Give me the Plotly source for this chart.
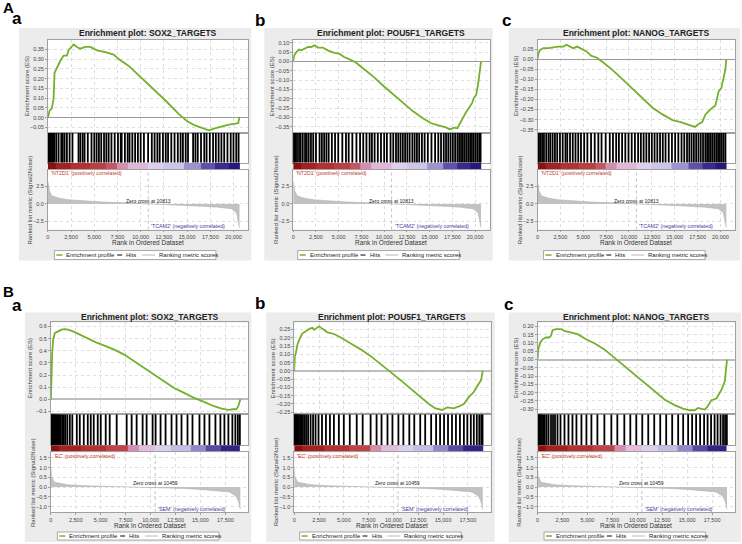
import plotly.graph_objects as go

W, H = 742, 544

# ---------------- values ----------------
# ranked list metric (Signal2Noise), one per dataset
metric_rank_A = [0, 72, 180, 430, 1150, 2220, 4010, 5810, 7600, 9390, 10813, 12970, 14770, 16560, 18350, 19780, 20320, 20500, 20650]
metric_val_A = [3.2, 2.6, 1.8, 1.17, 0.84, 0.6, 0.42, 0.28, 0.19, 0.1, 0.0, -0.14, -0.23, -0.33, -0.47, -0.7, -1.26, -2.2, -3.4]
metric_rank_B = [0, 60, 350, 1700, 3400, 5000, 6700, 8400, 10459, 11700, 13300, 15000, 16600, 17900, 18550, 18800, 19000]
metric_val_B = [1.0, 0.55, 0.25, 0.12, 0.07, 0.05, 0.03, 0.015, 0.0, -0.03, -0.07, -0.12, -0.19, -0.25, -0.46, -0.71, -1.14]

# colour strip under the hits (1 = red end, 0 = blue end)
strip_edges_A = [0, 900, 2500, 4500, 6300, 7400, 8600, 10800, 12500, 14700, 16500, 18000, 19500, 20650]
strip_level_A = [1.0, 0.95, 0.9, 0.85, 0.78, 0.66, 0.58, 0.5, 0.44, 0.34, 0.22, 0.12, 0.03]
strip_edges_B = [0, 800, 3000, 5500, 7700, 8800, 10459, 12000, 14000, 15500, 17000, 19000]
strip_level_B = [1.0, 0.95, 0.9, 0.83, 0.66, 0.57, 0.49, 0.42, 0.32, 0.2, 0.08]

# enrichment score curves
es_rank_A_sox2 = [0, 180, 432, 612, 720, 972, 1332, 1692, 2052, 2232, 2592, 2772, 3132, 3492, 4032, 4572, 5292, 6192, 7092, 7632, 8712, 9792, 11232, 12672, 14112, 15012, 15912, 16632, 17352, 18072, 18792, 19512, 20232, 20520, 20650]
es_A_sox2 = [0.0, 0.035, 0.048, 0.097, 0.23, 0.256, 0.29, 0.318, 0.318, 0.345, 0.362, 0.375, 0.362, 0.353, 0.362, 0.362, 0.345, 0.336, 0.323, 0.30, 0.265, 0.217, 0.154, 0.088, 0.018, -0.018, -0.041, -0.053, -0.065, -0.053, -0.044, -0.035, -0.030, -0.027, 0.004]
es_rank_A_pou5f1 = [0, 108, 361, 614, 903, 1264, 1625, 1986, 2347, 2708, 3249, 3791, 4513, 5054, 5596, 6318, 6859, 7762, 8845, 9928, 11011, 12094, 13177, 14260, 15162, 16065, 16787, 17220, 17689, 18050, 18411, 18953, 19314, 19675, 19855, 20108, 20325, 20469, 20650]
es_A_pou5f1 = [0, 0.033, 0.051, 0.064, 0.06, 0.069, 0.078, 0.078, 0.087, 0.075, 0.075, 0.06, 0.047, 0.042, 0.024, 0.009, -0.004, -0.04, -0.082, -0.131, -0.176, -0.222, -0.267, -0.304, -0.331, -0.344, -0.353, -0.364, -0.355, -0.358, -0.322, -0.276, -0.249, -0.222, -0.195, -0.18, -0.122, -0.058, 0.0]
es_rank_A_nanog = [0, 108, 289, 651, 1193, 1736, 2278, 2820, 3182, 3544, 3905, 4339, 4810, 5352, 5894, 6436, 7160, 8245, 9330, 10414, 11499, 12584, 13669, 14754, 15658, 16381, 16924, 17213, 17575, 18008, 18370, 18912, 19455, 19817, 20107, 20360, 20541, 20650]
es_A_nanog = [0, 0.03, 0.046, 0.054, 0.054, 0.059, 0.062, 0.062, 0.071, 0.062, 0.054, 0.062, 0.049, 0.038, 0.016, 0.008, -0.016, -0.056, -0.102, -0.148, -0.197, -0.241, -0.274, -0.302, -0.312, -0.323, -0.328, -0.336, -0.323, -0.312, -0.274, -0.249, -0.23, -0.159, -0.143, -0.093, -0.052, 0.0]
es_rank_B_sox2 = [0, 66, 132, 232, 397, 728, 1059, 1390, 1721, 2218, 2880, 3707, 4535, 5362, 6355, 7348, 8341, 9334, 10327, 11320, 12313, 13306, 14299, 15292, 16285, 17113, 17775, 18271, 18602, 18801, 19000]
es_B_sox2 = [0, 0.245, 0.382, 0.491, 0.545, 0.559, 0.573, 0.578, 0.573, 0.559, 0.532, 0.505, 0.469, 0.442, 0.409, 0.368, 0.314, 0.259, 0.205, 0.15, 0.095, 0.055, 0.014, -0.019, -0.055, -0.076, -0.087, -0.082, -0.082, -0.055, 0.0]
es_rank_B_pou5f1 = [0, 67, 168, 335, 603, 838, 1173, 1508, 1843, 2011, 2279, 2513, 2848, 3351, 4021, 4691, 5697, 6702, 7707, 8713, 9718, 10723, 11729, 12734, 13572, 14243, 14913, 15416, 16086, 16588, 17091, 17594, 18096, 18498, 18833, 19000]
es_B_pou5f1 = [0, 0.089, 0.11, 0.161, 0.202, 0.227, 0.24, 0.254, 0.26, 0.248, 0.26, 0.269, 0.254, 0.233, 0.223, 0.202, 0.165, 0.13, 0.089, 0.041, -0.004, -0.056, -0.107, -0.159, -0.2, -0.227, -0.236, -0.221, -0.227, -0.215, -0.2, -0.159, -0.128, -0.087, -0.056, 0.0]
es_rank_B_nanog = [0, 67, 268, 503, 838, 1173, 1340, 1508, 1843, 2346, 2681, 3184, 4021, 4859, 5697, 6702, 7707, 8713, 9718, 10723, 11729, 12734, 13740, 14578, 15248, 15751, 16086, 16756, 17025, 17427, 17930, 18432, 18767, 19000]
es_B_nanog = [0, 0.061, 0.102, 0.122, 0.133, 0.133, 0.143, 0.177, 0.184, 0.184, 0.173, 0.167, 0.153, 0.122, 0.098, 0.061, 0.01, -0.041, -0.092, -0.143, -0.194, -0.241, -0.275, -0.296, -0.306, -0.306, -0.292, -0.302, -0.286, -0.245, -0.235, -0.184, -0.133, 0.0]

# hit positions (rank of gene-set members)
hits_A_sox2 = [30, 120, 210, 330, 450, 560, 690, 900, 1150, 1440, 1600, 1800, 2050, 2340, 2650, 3300, 3500, 3750, 3950, 4300, 4700, 5000, 5250, 5500, 5750, 6050, 6300, 6550, 6850, 7200, 7550, 7850, 7950, 8300, 8600, 8800, 9100, 9400, 9700, 10000, 10350, 10800, 11200, 11500, 11800, 12050, 12400, 12700, 12950, 13300, 13650, 14000, 14300, 14550, 14850, 15100, 15650, 15900, 16150, 16500, 16850, 17100, 17450, 17800, 18100, 18400, 18700, 19000, 19350, 19700, 20000, 20300, 20550]
hits_A_pou5f1 = [20, 110, 260, 420, 640, 820, 1050, 1300, 1480, 1700, 1950, 2200, 2500, 2900, 3150, 3400, 3650, 3900, 4250, 4600, 4950, 5400, 5800, 6100, 6500, 6950, 7350, 7700, 8050, 8400, 8650, 8950, 9300, 9650, 10000, 10300, 10700, 11000, 11300, 11550, 11800, 12050, 12300, 12550, 12800, 13100, 13350, 13600, 13850, 14150, 14450, 14800, 15200, 15600, 15950, 16250, 16550, 16800, 17050, 17300, 17550, 17800, 18050, 18250, 18450, 18650, 18850, 19050, 19250, 19450, 19650, 19850, 20050, 20250, 20450, 20600]
hits_A_nanog = [40, 150, 300, 500, 700, 950, 1200, 1400, 1650, 1900, 2150, 2450, 2750, 3050, 3250, 3550, 3850, 4150, 4450, 4750, 5100, 5450, 5850, 6250, 6650, 7000, 7450, 7900, 8250, 8600, 8900, 9250, 9600, 9950, 10300, 10650, 11000, 11300, 11600, 11900, 12200, 12500, 12800, 13100, 13400, 13700, 14000, 14350, 14700, 15050, 15400, 15750, 16050, 16350, 16600, 16850, 17100, 17350, 17600, 17850, 18100, 18350, 18550, 18750, 18950, 19150, 19350, 19550, 19750, 19950, 20150, 20350, 20550]
hits_B_sox2 = [0, 40, 90, 150, 220, 300, 380, 470, 560, 650, 760, 880, 1000, 1150, 1300, 1450, 1650, 1900, 2150, 2600, 2900, 3300, 3700, 4000, 4300, 4700, 5000, 5500, 5900, 6600, 7600, 8100, 8600, 9200, 9600, 10200, 10500, 11000, 11500, 12100, 12600, 13100, 13700, 14200, 14900, 15400, 15900, 16500, 17000, 17400, 17800, 18200, 18500, 18750, 18950]
hits_B_pou5f1 = [0, 50, 120, 200, 290, 380, 480, 600, 730, 870, 1020, 1200, 1400, 1650, 1900, 2150, 2450, 2800, 3200, 3600, 4000, 4500, 5000, 5600, 6300, 6900, 7700, 8300, 8800, 9400, 9900, 10500, 11000, 11600, 12100, 12700, 13200, 13800, 14300, 14700, 15100, 15500, 15900, 16300, 16700, 17100, 17450, 17800, 18100, 18400, 18650, 18850, 18980]
hits_B_nanog = [0, 60, 140, 230, 330, 450, 580, 720, 900, 1100, 1350, 1550, 1750, 2000, 2300, 2700, 3100, 3500, 3900, 4400, 4900, 5400, 6000, 6700, 7400, 8000, 8700, 9300, 9900, 10500, 11100, 11700, 12300, 12900, 13500, 14100, 14600, 15100, 15500, 15900, 16300, 16700, 17050, 17400, 17750, 18050, 18350, 18600, 18800, 18980]

# ---------------- layout (pixel geometry) ----------------
rows = {
    "A": dict(frame=(28, 261), title_y=33, es=(40, 133), hits=(133, 163), strip=(163, 170), rank=(170, 230),
              xlabel_y=243, legend=(251, 260), xmax=21600, rank_range=[-3.67, 4.9], rank_ticks=[-2.5, 0, 2.5],
              metric_x=metric_rank_A, metric_y=metric_val_A, strip_x=strip_edges_A, strip_z=strip_level_A,
              pos="'NT2D1' (positively correlated)", neg="'TCAM2' (negatively correlated)",
              zero=10813, zlabel="Zero cross at 10813", zcol="#9a9a9a", zw=1),
    "B": dict(frame=(313, 543), title_y=318, es=(323, 415), hits=(415, 446), strip=(446, 453), rank=(453, 513),
              xlabel_y=526, legend=(533, 541), xmax=19800, rank_range=[-1.28, 1.79], rank_ticks=[-1, -0.5, 0, 0.5, 1, 1.5],
              metric_x=metric_rank_B, metric_y=metric_val_B, strip_x=strip_edges_B, strip_z=strip_level_B,
              pos="'EC' (positively correlated)", neg="'SEM' (negatively correlated)",
              zero=10459, zlabel="Zero cross at 10459", zcol="#bdbdbd", zw=2),
}

panels = [
    dict(row="A", letter="a", lx=15, ly=19, fx=(17, 250), px=(46, 247), title="Enrichment plot: SOX2_TARGETS",
         ex=es_rank_A_sox2, ey=es_A_sox2, hits=hits_A_sox2, yr=[-0.077, 0.398], dt=0.05, fmt=".2f"),
    dict(row="A", letter="b", lx=259, ly=21, fx=(263, 492), px=(292, 489), title="Enrichment plot: POU5F1_TARGETS",
         ex=es_rank_A_pou5f1, ey=es_A_pou5f1, hits=hits_A_pou5f1, yr=[-0.382, 0.116], dt=0.05, fmt=".2f"),
    dict(row="A", letter="c", lx=506, ly=21, fx=(508, 740), px=(537, 735), title="Enrichment plot: NANOG_TARGETS",
         ex=es_rank_A_nanog, ey=es_A_nanog, hits=hits_A_nanog, yr=[-0.365, 0.095], dt=0.05, fmt=".2f"),
    dict(row="B", letter="a", lx=15, ly=306, fx=(23, 250), px=(49, 247), title="Enrichment plot: SOX2_TARGETS",
         ex=es_rank_B_sox2, ey=es_B_sox2, hits=hits_B_sox2, yr=[-0.123, 0.633], dt=0.1, fmt=".1f"),
    dict(row="B", letter="b", lx=259, ly=304, fx=(265, 494), px=(293, 490), title="Enrichment plot: POU5F1_TARGETS",
         ex=es_rank_B_pou5f1, ey=es_B_pou5f1, hits=hits_B_pou5f1, yr=[-0.262, 0.293], dt=0.05, fmt=".2f"),
    dict(row="B", letter="c", lx=508, ly=305, fx=(508, 741), px=(537, 735), title="Enrichment plot: NANOG_TARGETS",
         ex=es_rank_B_nanog, ey=es_B_nanog, hits=hits_B_nanog, yr=[-0.33, 0.224], dt=0.05, fmt=".2f"),
]

FONT = "Liberation Sans, Arial, sans-serif"
GRID = "#dedede"
LINE = "#a0a0a0"
strip_scale = [[0.0, "#1f1273"], [0.12, "#3a2a90"], [0.25, "#6a5cb5"], [0.38, "#b4abdc"], [0.47, "#d9d4ef"],
               [0.55, "#e6c6e6"], [0.63, "#dc9cc4"], [0.72, "#cc6f86"], [0.82, "#c0464c"], [0.92, "#b02a2e"],
               [1.0, "#8c1010"]]


def fx(p):
    return p / W


def fy(p):
    return 1 - p / H


def txt(x, y, text, size=6, color="#333", **kw):
    d = dict(x=fx(x), y=fy(y), xref="paper", yref="paper", text=text, showarrow=False,
             font=dict(family=FONT, size=size, color=color), xanchor="center", yanchor="middle")
    d.update(kw)
    return d


fig = go.Figure()
layout = {}
shapes = []
annotations = [txt(7, 8, "<b>A</b>", 15, "#000"), txt(7, 292, "<b>B</b>", 15, "#000")]
n = 0

for p in panels:
    r = rows[p["row"]]
    x0, x1 = p["px"]
    ids = {}
    for key in ["es", "hits", "strip", "rank"]:
        n += 1
        ids[key] = n
    ax = lambda k: ("" if ids[k] == 1 else str(ids[k]))
    dom_x = [fx(x0), fx(x1)]
    base_x = dict(domain=dom_x, range=[0, r["xmax"]], showline=True, mirror=True, linecolor=LINE,
                  linewidth=0.8, zeroline=False, ticks="", showticklabels=False, showgrid=False)

    # background frame and white plotting area
    shapes.append(dict(type="rect", xref="paper", yref="paper", x0=fx(p["fx"][0]), x1=fx(p["fx"][1]),
                       y0=fy(r["frame"][1]), y1=fy(r["frame"][0]), fillcolor="#ececec", line=dict(width=0),
                       layer="below"))
    shapes.append(dict(type="rect", xref="paper", yref="paper", x0=dom_x[0], x1=dom_x[1],
                       y0=fy(r["rank"][1]), y1=fy(r["es"][0]), fillcolor="white", line=dict(width=0),
                       layer="below"))

    # enrichment score
    k = "es"
    layout["xaxis" + ax(k)] = dict(base_x, anchor="y" + ax(k), showgrid=True, gridcolor=GRID, griddash="dot",
                                   gridwidth=0.7, tick0=0, dtick=2500)
    layout["yaxis" + ax(k)] = dict(domain=[fy(r["es"][1]), fy(r["es"][0])], range=p["yr"], anchor="x" + ax(k),
                                   tick0=0, dtick=p["dt"], tickformat=p["fmt"], ticks="outside", ticklen=2,
                                   tickcolor=LINE, tickfont=dict(family=FONT, size=5.5, color="#444"),
                                   showgrid=True, gridcolor=GRID, griddash="dot", gridwidth=0.7,
                                   zeroline=True, zerolinecolor=r["zcol"], zerolinewidth=r["zw"],
                                   showline=True, mirror=True, linecolor=LINE, linewidth=0.8)
    fig.add_trace(go.Scatter(x=p["ex"], y=p["ey"], mode="lines", line=dict(color="#74b02b", width=1.8),
                             xaxis="x" + ax(k), yaxis="y" + ax(k), showlegend=False, hoverinfo="skip"))

    # hits
    k = "hits"
    layout["xaxis" + ax(k)] = dict(base_x, anchor="y" + ax(k))
    layout["yaxis" + ax(k)] = dict(domain=[fy(r["hits"][1]), fy(r["hits"][0])], range=[0, 1], anchor="x" + ax(k),
                                   showticklabels=False, ticks="", showgrid=False, zeroline=False,
                                   showline=True, mirror=True, linecolor=LINE, linewidth=0.8)
    hx, hy = [], []
    for h in p["hits"]:
        hx += [h, h, None]
        hy += [0, 1, None]
    fig.add_trace(go.Scatter(x=hx, y=hy, mode="lines", line=dict(color="#000", width=1.8),
                             xaxis="x" + ax(k), yaxis="y" + ax(k), showlegend=False, hoverinfo="skip"))

    # colour strip
    k = "strip"
    layout["xaxis" + ax(k)] = dict(base_x, anchor="y" + ax(k), showline=False)
    layout["yaxis" + ax(k)] = dict(domain=[fy(r["strip"][1]), fy(r["strip"][0])], range=[0, 1], anchor="x" + ax(k),
                                   showticklabels=False, ticks="", showgrid=False, zeroline=False, showline=False)
    fig.add_trace(go.Heatmap(z=[r["strip_z"]], x=r["strip_x"], y=[0, 1], colorscale=strip_scale, zmin=0, zmax=1,
                             showscale=False, xaxis="x" + ax(k), yaxis="y" + ax(k), hoverinfo="skip"))

    # ranked list metric
    k = "rank"
    layout["xaxis" + ax(k)] = dict(base_x, anchor="y" + ax(k), showticklabels=True, ticks="outside", ticklen=2,
                                   tickcolor=LINE, tick0=0, dtick=2500, tickformat=",d",
                                   tickfont=dict(family=FONT, size=5.5, color="#444"),
                                   showgrid=True, gridcolor=GRID, griddash="dot", gridwidth=0.7)
    layout["yaxis" + ax(k)] = dict(domain=[fy(r["rank"][1]), fy(r["rank"][0])], range=r["rank_range"],
                                   anchor="x" + ax(k), tickvals=r["rank_ticks"], tickformat=".1f", ticks="outside",
                                   ticklen=2, tickcolor=LINE, tickfont=dict(family=FONT, size=5.5, color="#444"),
                                   showgrid=True, gridcolor=GRID, griddash="dot", gridwidth=0.7, zeroline=False,
                                   showline=True, mirror=True, linecolor=LINE, linewidth=0.8)
    fig.add_trace(go.Scatter(x=r["metric_x"], y=r["metric_y"], mode="lines", fill="tozeroy", fillcolor="#c2c2c2",
                             line=dict(color="#b4b4b4", width=0.6), xaxis="x" + ax(k), yaxis="y" + ax(k),
                             showlegend=False, hoverinfo="skip"))
    shapes.append(dict(type="line", xref="x" + ax(k), yref="y" + ax(k) + " domain", x0=r["zero"], x1=r["zero"],
                       y0=0, y1=1, line=dict(color="#a8a8a8", width=0.7, dash="dot")))

    # texts
    cx = (x0 + x1) / 2
    zx = x0 + (x1 - x0) * r["zero"] / r["xmax"]
    fcx = (p["fx"][0] + p["fx"][1]) / 2
    annotations += [
        txt(p["lx"], p["ly"], "<b>" + p["letter"] + "</b>", 17, "#000"),
        txt(cx, r["title_y"], "<b>" + p["title"] + "</b>", 8.5, "#222"),
        txt(x0 - 21, (r["es"][0] + r["es"][1]) / 2, "Enrichment score (ES)", 6, "#444", textangle=-90),
        txt(x0 - 18, (r["rank"][0] + r["rank"][1]) / 2, "Ranked list metric (Signal2Noise)", 6, "#444",
            textangle=-90),
        txt(cx, r["xlabel_y"], "Rank in Ordered Dataset", 6.5, "#333"),
        txt(x0 + 1, r["rank"][0] + 3.5, r["pos"], 5.3, "#c0392b", xanchor="left"),
        txt(zx + 1, r["rank"][1] - 3.5, r["neg"], 5.3, "#4a3aa0", xanchor="left"),
        txt(zx, r["rank"][0] + (r["rank"][1] - r["rank"][0]) * 0.52, r["zlabel"], 5, "#222"),
    ]

    # legend box
    ly0, ly1 = r["legend"]
    lyc = (ly0 + ly1) / 2
    bx0 = fcx - 81
    shapes.append(dict(type="rect", xref="paper", yref="paper", x0=fx(bx0), x1=fx(bx0 + 162),
                       y0=fy(ly1), y1=fy(ly0), fillcolor="white", line=dict(color="#888", width=0.7)))
    for a, b, col, wd in [(2, 8, "#74b02b", 1.5), (63, 68, "#000", 1), (88, 101, "#d0d0d0", 1.5)]:
        shapes.append(dict(type="line", xref="paper", yref="paper", x0=fx(bx0 + a), x1=fx(bx0 + b),
                           y0=fy(lyc), y1=fy(lyc), line=dict(color=col, width=wd)))
    annotations += [
        txt(bx0 + 10, lyc, "Enrichment profile", 6, "#222", xanchor="left"),
        txt(bx0 + 70, lyc, "Hits", 6, "#222", xanchor="left"),
        txt(bx0 + 103, lyc, "Ranking metric scores", 6, "#222", xanchor="left"),
    ]

fig.update_layout(layout)
fig.update_layout(width=W, height=H, margin=dict(l=0, r=0, t=0, b=0), paper_bgcolor="white",
                  plot_bgcolor="rgba(0,0,0,0)", shapes=shapes, annotations=annotations, showlegend=False)
# page body margin would push the figure 8px down/right
fig.write_html("out.html", config={"displayModeBar": False},
               post_script="document.body.style.margin='0px';")
